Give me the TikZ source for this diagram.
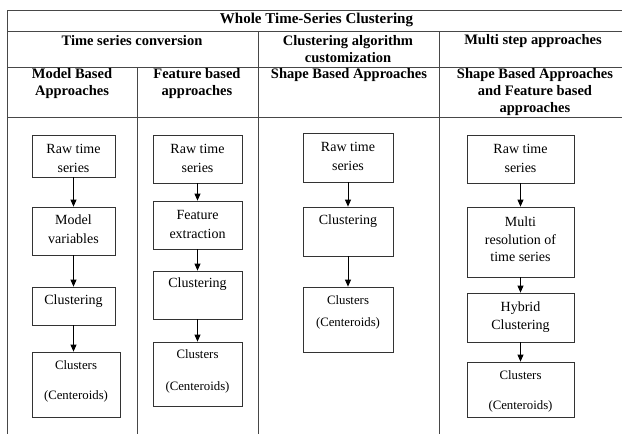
\documentclass[tikz,border=0pt]{standalone}
\usepackage{fontspec}
\setmainfont{Liberation Serif}
\usetikzlibrary{arrows.meta}
\tikzset{
  grid/.style={draw=black!72, line width=0.8pt},
  box/.style={draw=black!80, line width=0.8pt, rectangle, inner sep=0pt},
  hdr/.style={font=\bfseries\fontsize{14.5}{17}\selectfont, align=center, inner sep=0pt},
  ttl/.style={font=\bfseries\fontsize{15}{17}\selectfont, inner sep=0pt},
  btxt/.style={font=\fontsize{14}{19}\selectfont, align=center, inner sep=0pt},
  ctxt/.style={font=\fontsize{12.8}{15}\selectfont, align=center, inner sep=0pt},
  arr/.style={draw=black, line width=0.8pt, -{Triangle[length=7pt,width=6pt]}},
}
\begin{document}
\begin{tikzpicture}[x=1pt,y=-1pt]
\useasboundingbox (0,0) rectangle (622,434);
% table grid
\draw[grid] (7,10) -- (622,10);
\draw[grid] (7,31) -- (622,31);
\draw[grid] (7,67) -- (622,67);
\draw[grid] (7,117) -- (622,117);
\draw[grid] (7,10) -- (7,434);
\draw[grid] (137,67) -- (137,434);
\draw[grid] (258,31) -- (258,434);
\draw[grid] (439,31) -- (439,434);
% headers
\node[ttl] (h0) at (316.5,19.5) {Whole Time-Series Clustering};
\node[hdr] (h1) at (132,41) {Time series conversion};
\node[hdr] (h2) at (348,49.5) {Clustering algorithm\\customization};
\node[hdr] (h3) at (533,41) {Multi step approaches};
\node[hdr] (h4) at (72,83.5) {Model Based\\Approaches};
\node[hdr] (h5) at (197,83.5) {Feature based\\approaches};
\node[hdr] (h6) at (349,75) {Shape Based Approaches};
\node[hdr] (h7) at (535,92) {Shape Based Approaches\\and Feature based\\approaches};
% column 1
\node[box, minimum width=83pt, minimum height=42pt] (a1) at (73.5,156) {};
\node[box, minimum width=83pt, minimum height=48pt] (a2) at (73.5,231) {};
\node[box, minimum width=83pt, minimum height=38pt] (a3) at (73.5,306) {};
\node[box, minimum width=88pt, minimum height=65pt] (a4) at (76,384.5) {};
\node[btxt] (ta1) at (73.5,158.5) {Raw time\\series};
\node[btxt] (ta2) at (73.5,229.5) {Model\\variables};
\node[btxt] (ta3) at (73.5,301) {Clustering};
\node[ctxt] (ta4) at (76,381) {Clusters\\[15pt](Centeroids)};
\draw[arr] (a1.south) -- (a2.north);
\draw[arr] (a2.south) -- (a3.north);
\draw[arr] (a3.south) -- (a3.south |- a4.north);
% column 2
\node[box, minimum width=89pt, minimum height=48pt] (b1) at (197.5,159) {};
\node[box, minimum width=89pt, minimum height=48pt] (b2) at (197.5,225) {};
\node[box, minimum width=89pt, minimum height=48pt] (b3) at (197.5,295) {};
\node[box, minimum width=89pt, minimum height=64pt] (b4) at (197.5,374) {};
\node[btxt] (tb1) at (197.5,158.5) {Raw time\\series};
\node[btxt] (tb2) at (197.5,224.5) {Feature\\extraction};
\node[btxt] (tb3) at (197.5,284) {Clustering};
\node[ctxt] (tb4) at (197.5,371) {Clusters\\[17pt](Centeroids)};
\draw[arr] (b1.south) -- (b2.north);
\draw[arr] (b2.south) -- (b3.north);
\draw[arr] (b3.south) -- (b4.north);
% column 3
\node[box, minimum width=90pt, minimum height=49pt] (c1) at (348,157.5) {};
\node[box, minimum width=90pt, minimum height=49pt] (c2) at (348,231.5) {};
\node[box, minimum width=90pt, minimum height=65pt] (c3) at (348,319.5) {};
\node[btxt] (tc1) at (348,156.5) {Raw time\\series};
\node[btxt] (tc2) at (348,221) {Clustering};
\node[ctxt] (tc3) at (348,312) {Clusters\\[7pt](Centeroids)};
\draw[arr] (c1.south) -- (c2.north);
\draw[arr] (c2.south) -- (c3.north);
% column 4
\node[box, minimum width=107pt, minimum height=48pt] (d1) at (520.5,159) {};
\node[box, minimum width=107pt, minimum height=70pt] (d2) at (520.5,242) {};
\node[box, minimum width=107pt, minimum height=49pt] (d3) at (520.5,317.5) {};
\node[box, minimum width=107pt, minimum height=55pt] (d4) at (520.5,389.5) {};
\node[btxt] (td1) at (520.5,158.5) {Raw time\\series};
\node[btxt, font=\fontsize{14}{17.5}\selectfont] (td2) at (520.5,239.5) {Multi\\resolution of\\time series};
\node[btxt, font=\fontsize{14}{18}\selectfont] (td3) at (520.5,317) {Hybrid\\Clustering};
\node[ctxt] (td4) at (520.5,391) {Clusters\\[15pt](Centeroids)};
\draw[arr] (d1.south) -- (d2.north);
\draw[arr] (d2.south) -- (d3.north);
\draw[arr] (d3.south) -- (d4.north);
\end{tikzpicture}
\end{document}
